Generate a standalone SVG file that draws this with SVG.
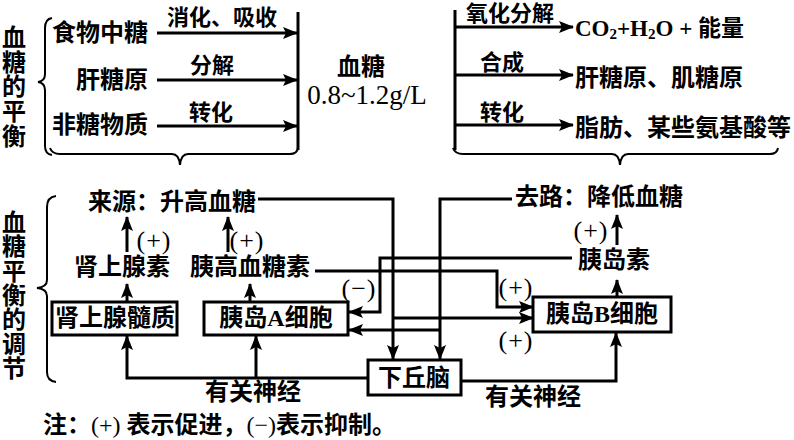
<svg xmlns="http://www.w3.org/2000/svg" width="794" height="440" viewBox="0 0 794 440">
<defs>
<marker id="ah" markerUnits="userSpaceOnUse" markerWidth="15" markerHeight="12" refX="14" refY="6" orient="auto">
<path d="M0,0 L15,6 L0,12 L3,6 z" fill="#000"/>
</marker>
<style>
text{font-family:"Liberation Serif","Noto Sans CJK SC",serif;font-weight:bold;fill:#000;dominant-baseline:central}
.t{font-size:24px}
.s{font-size:22px}
.m{text-anchor:middle}
.e{text-anchor:end}
.p{font-size:26px;font-weight:normal;letter-spacing:1px}
.ln{fill:none;stroke:#000;stroke-width:3}
.ar{fill:none;stroke:#000;stroke-width:3;marker-end:url(#ah)}
.bx{fill:#fff;stroke:#000;stroke-width:3}
.br{fill:none;stroke:#000;stroke-width:2}
</style>
</defs>
<rect width="794" height="440" fill="#fff"/>

<!-- top section -->
<g id="label-top">
<text class="t m"><tspan x="14" y="38">血</tspan><tspan x="14" y="62.5">糖</tspan><tspan x="14" y="87">的</tspan><tspan x="14" y="112">平</tspan><tspan x="14" y="137">衡</tspan></text>
</g>
<g id="braces-top">
<path class="br" d="M52,18 Q45,19 45,28 L45,74 Q45,81 38,82 Q45,83 45,90 L45,146 Q45,154 52,155"/>
<path class="br" d="M50,148 Q52,154 60,154 L172,154 Q179,154 180,165 Q181,154 188,154 L290,154 Q297,154 298,148"/>
<path class="br" d="M453,148 Q455,154 463,154 L612,154 Q619,154 620,165 Q621,154 628,154 L770,154 Q777,154 778,148"/>
</g>
<g id="sources">
<text class="t e" x="148" y="33">食物中糖</text>
<text class="t e" x="148" y="80">肝糖原</text>
<text class="t e" x="148" y="125">非糖物质</text>
</g>
<g id="blood-sugar">
<text class="t m" x="361" y="67">血糖</text>
<text class="m" x="367" y="95" style="font-size:27px;font-weight:normal">0.8~1.2g/L</text>
</g>
<g id="outputs">
<text class="t" x="575" y="28" style="font-size:23px">CO<tspan font-size="15" dy="6">2</tspan><tspan dy="-6">+H</tspan><tspan font-size="15" dy="6">2</tspan><tspan dy="-6">O + 能量</tspan></text>
<text class="t" x="575" y="78">肝糖原、肌糖原</text>
<text class="t" x="575" y="128">脂肪、某些氨基酸等</text>
</g>
<g id="connectors-top">
<line class="ln" x1="298" y1="12" x2="298" y2="150"/>
<line class="ln" x1="455" y1="10" x2="455" y2="150"/>
<line class="ar" x1="157" y1="33" x2="297" y2="33"/>
<line class="ar" x1="157" y1="80" x2="297" y2="80"/>
<line class="ar" x1="157" y1="126" x2="297" y2="126"/>
<line class="ar" x1="455" y1="27" x2="573" y2="27"/>
<line class="ar" x1="455" y1="75" x2="573" y2="75"/>
<line class="ar" x1="455" y1="125" x2="573" y2="125"/>
<text class="s m" x="222" y="17">消化、吸收</text>
<text class="s m" x="212" y="65">分解</text>
<text class="s m" x="211" y="112">转化</text>
<text class="s m" x="510" y="13">氧化分解</text>
<text class="s m" x="502" y="62">合成</text>
<text class="s m" x="502" y="112">转化</text>
</g>

<!-- bottom section -->
<g id="label-bottom">
<text class="t m"><tspan x="14" y="223">血</tspan><tspan x="14" y="247.3">糖</tspan><tspan x="14" y="271.6">平</tspan><tspan x="14" y="296">衡</tspan><tspan x="14" y="320.3">的</tspan><tspan x="14" y="344.6">调</tspan><tspan x="14" y="369">节</tspan></text>
</g>
<g id="brace-bottom">
<path class="br" d="M56,196 Q47,197 47,207 L47,280 Q47,287 37,288 Q47,289 47,296 L47,372 Q47,381 56,382"/>
</g>
<g id="source-text"><text class="t" x="88" y="202">来源：升高血糖</text></g>
<g id="sink-text"><text class="t" x="515" y="197">去路：降低血糖</text></g>
<g id="epinephrine"><text class="t m" x="122" y="267">肾上腺素</text></g>
<g id="glucagon"><text class="t m" x="250" y="267">胰高血糖素</text></g>
<g id="insulin"><text class="t m" x="614" y="260">胰岛素</text></g>
<g id="adrenal-medulla">
<rect class="bx" x="52" y="302" width="125" height="33"/>
<text class="t m" x="115" y="318">肾上腺髓质</text>
</g>
<g id="alpha-cell">
<rect class="bx" x="204" y="302" width="144" height="33"/>
<text class="t m" x="276" y="318">胰岛A细胞</text>
</g>
<g id="beta-cell">
<rect class="bx" x="533" y="297" width="138" height="35"/>
<text class="t m" x="602" y="314">胰岛B细胞</text>
</g>
<g id="hypothalamus">
<rect class="bx" x="368" y="360" width="93" height="35"/>
<text class="t m" x="414" y="378">下丘脑</text>
</g>
<g id="connectors-bottom">
<polyline class="ar" points="258,199 393,199 393,359"/>
<polyline class="ar" points="512,199 440,199 440,359"/>
<line class="ar" x1="393" y1="318" x2="533" y2="318"/>
<line class="ar" x1="440" y1="330" x2="349" y2="330"/>
<polyline class="ar" points="572,258 380,258 380,312 349,312"/>
<polyline class="ar" points="315,271 497,271 497,307 533,307"/>
<line class="ar" x1="127" y1="302" x2="127" y2="284"/>
<line class="ar" x1="127" y1="252" x2="127" y2="217"/>
<line class="ar" x1="250" y1="302" x2="250" y2="284"/>
<line class="ar" x1="228" y1="252" x2="228" y2="217"/>
<line class="ar" x1="617" y1="297" x2="617" y2="280"/>
<line class="ar" x1="617" y1="245" x2="617" y2="215"/>
<polyline class="ar" points="368,378 127,378 127,336"/>
<line class="ar" x1="256" y1="378" x2="256" y2="336"/>
<polyline class="ar" points="461,381 616,381 616,333"/>
<text class="p m" x="154" y="240">(+)</text>
<text class="p m" x="247" y="240">(+)</text>
<text class="p m" x="591" y="230">(+)</text>
<text class="p m" x="516" y="287">(+)</text>
<text class="p m" x="516" y="340">(+)</text>
<text class="p m" x="359" y="288">(−)</text>
<text class="t m" x="253" y="392">有关神经</text>
<text class="t m" x="533" y="397">有关神经</text>
</g>
<g id="note">
<text class="t" x="43" y="425">注：<tspan style="font-weight:normal">(+)</tspan> 表示促进，<tspan style="font-weight:normal">(−)</tspan>表示抑制。</text>
</g>
</svg>
